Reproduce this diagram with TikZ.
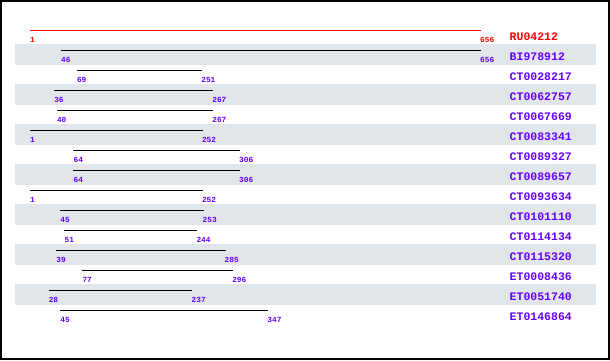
\documentclass[tikz,border=0pt]{standalone}
\usepackage{fontspec}
\newfontfamily\namefont[Scale=1]{Liberation Mono}
\definecolor{hitpurple}{RGB}{102,0,255}
\definecolor{hitred}{RGB}{255,0,0}
\definecolor{bandgray}{RGB}{225,230,234}
\tikzset{
  hitline/.style={line width=1pt},
  numlabel/.style={anchor=base west, inner sep=0pt, font=\namefont\bfseries\fontsize{7.8}{8}\selectfont},
  namelabel/.style={anchor=base west, inner sep=0pt, font=\namefont\bfseries\fontsize{11.5}{12}\selectfont},
  band/.style={fill=bandgray, draw=none}
}
\begin{document}
\begin{tikzpicture}[x=1pt,y=-1pt]
\useasboundingbox (0,0) rectangle (610,360);
\fill[white] (0,0) rectangle (610,360);
% bands
\foreach \i in {1,3,5,7,9,11,13} {
  \fill[band] (15,{30+20*\i-6}) rectangle (596,{30+20*\i+14.7});
}
% rows
\foreach \i/\nm/\s/\e/\c in {
  0/RU04212/1/656/hitred,
  1/BI978912/46/656/hitpurple,
  2/CT0028217/69/251/hitpurple,
  3/CT0062757/36/267/hitpurple,
  4/CT0067669/40/267/hitpurple,
  5/CT0083341/1/252/hitpurple,
  6/CT0089327/64/306/hitpurple,
  7/CT0089657/64/306/hitpurple,
  8/CT0093634/1/252/hitpurple,
  9/CT0101110/45/253/hitpurple,
  10/CT0114134/51/244/hitpurple,
  11/CT0115320/39/285/hitpurple,
  12/ET0008436/77/296/hitpurple,
  13/ET0051740/28/237/hitpurple,
  14/ET0146864/45/347/hitpurple} {
  \pgfmathsetmacro{\ly}{30.5+20*\i}
  \pgfmathsetmacro{\xs}{30+(\s-1)*0.6885}
  \pgfmathsetmacro{\xe}{30+(\e-1)*0.6885}
  \coordinate (s\i) at (\xs,\ly);
  \coordinate (e\i) at (\xe,\ly);
  \ifnum\i=0
    \draw[hitline, hitred] (s\i) -- (e\i);
  \else
    \draw[hitline, black] (s\i) -- (e\i);
  \fi
  \node[numlabel, text=\c] (ls\i) at (\xs,{\ly+11.7}) {\s};
  \node[numlabel, text=\c] (le\i) at ({\xe-1},{\ly+11.7}) {\e};
  \node[namelabel, text=\c] (n\i) at (509.5,{\ly+10.3}) {\nm};
}
% frame
\draw[line width=2pt, black] (1,1) rectangle (608.5,358.5);
\end{tikzpicture}
\end{document}
